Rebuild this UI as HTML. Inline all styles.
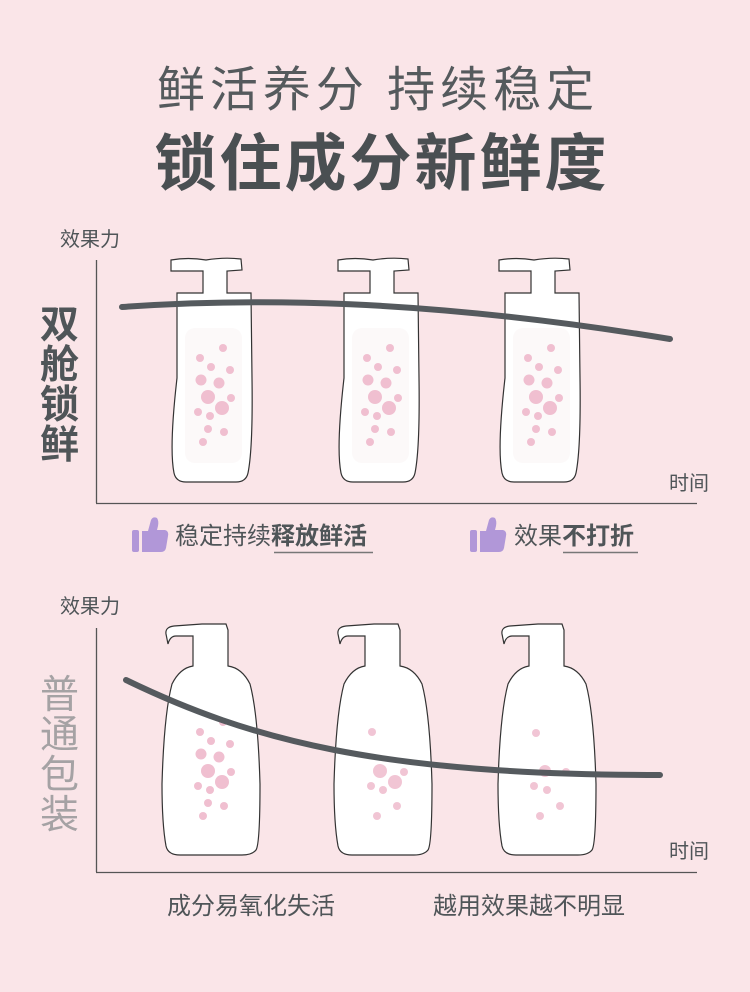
<!DOCTYPE html>
<html><head><meta charset="utf-8"><style>
body{margin:0;width:750px;height:987px;background:#fae5e8;overflow:hidden;font-family:"Liberation Sans","Noto Sans CJK SC",sans-serif}
</style></head><body>
<svg width="750" height="987" viewBox="0 0 750 987" xmlns="http://www.w3.org/2000/svg" style="font-family:'Liberation Sans','Noto Sans CJK SC',sans-serif">
<defs>
<g id="dots">
<circle cx="223" cy="348" r="4"/><circle cx="200" cy="358" r="4"/><circle cx="211" cy="367" r="4"/><circle cx="230" cy="370" r="4"/>
<circle cx="201" cy="380" r="5.5"/><circle cx="219" cy="383" r="5.5"/><circle cx="208" cy="397" r="7"/><circle cx="231" cy="398" r="4"/>
<circle cx="222" cy="408" r="7"/><circle cx="198" cy="412" r="4"/><circle cx="210" cy="416" r="4"/><circle cx="208" cy="429" r="4"/>
<circle cx="224" cy="432" r="4"/><circle cx="203" cy="442" r="4"/>
</g>
<g id="tb">
<path d="M1,2 Q18,-1 36,2 Q54,-1 71,1 L72,12 L57,13 L57,35 L81,35 L82,120 Q83,190 78,215 Q76,224 66,224 L16,224 Q6,224 4,215 Q-1,190 7,120 L7,35 L33,35 L33,13 L1,13 Z" fill="#fff" stroke="#333" stroke-width="1.2"/>
<rect x="15" y="70" width="57" height="135" rx="10" fill="#fcf9f9"/>
</g>
<g id="lb">
<path d="M4,10 Q3,3 12,2 L40,0 L64,0 L66,6 L66,42 Q80,44 88,60 Q96,90 98,160 Q98,220 94,226 Q90,231 80,231 L18,231 Q6,231 4,222 Q0,200 0,160 Q2,90 10,60 Q18,44 31,42 L31,12 L14,12 Q8,12 6,20 Z" fill="#fff" stroke="#333" stroke-width="1.2"/>
</g>
<g id="thumb" fill="#b197d8">
<rect x="0" y="13" width="7" height="22" rx="2"/>
<path d="M10,14 L16,14 L19,3 Q21,-1 25,1 Q27,4 26,9 L25,13 L33,13 Q37,14 36,19 L34,31 Q33,35 29,35 L10,35 Z"/>
</g>
</defs>
<text x="378" y="106" text-anchor="middle" font-size="48" fill="#555a5d" letter-spacing="5">鲜活养分 持续稳定</text>
<text x="382" y="185" text-anchor="middle" font-size="62" font-weight="bold" fill="#4a4f52" letter-spacing="3">锁住成分新鲜度</text>

<text x="60" y="246" font-size="20" fill="#4f5558">效果力</text>
<line x1="96.5" y1="260" x2="96.5" y2="503" stroke="#555" stroke-width="1.3"/>
<line x1="96" y1="503.5" x2="697" y2="503.5" stroke="#555" stroke-width="1.3"/>
<text x="669" y="490" font-size="20" fill="#4f5558">时间</text>
<g font-size="39" fill="#4f5558" font-weight="bold"><text x="40" y="338">双</text><text x="40" y="378">舱</text><text x="40" y="418">锁</text><text x="40" y="458">鲜</text></g>

<use href="#tb" transform="translate(170,258)"/>
<use href="#tb" transform="translate(337,258)"/>
<use href="#tb" transform="translate(498,258)"/>
<g fill="#f0bfd0"><use href="#dots"/><use href="#dots" transform="translate(167,0)"/><use href="#dots" transform="translate(328,0)"/></g>
<path d="M122,307 C250,298 420,298 670,339" fill="none" stroke="#555a5e" stroke-width="6" stroke-linecap="round"/>

<use href="#thumb" transform="translate(132,517)"/>
<text x="175" y="544" font-size="24" fill="#4f5558">稳定持续<tspan font-weight="bold">释放鲜活</tspan></text>
<line x1="274" y1="552.5" x2="373" y2="552.5" stroke="#777" stroke-width="1.5"/>
<use href="#thumb" transform="translate(470,517)"/>
<text x="514" y="544" font-size="24" fill="#4f5558">效果<tspan font-weight="bold">不打折</tspan></text>
<line x1="563" y1="552.5" x2="638" y2="552.5" stroke="#777" stroke-width="1.5"/>

<text x="60" y="613" font-size="20" fill="#4f5558">效果力</text>
<line x1="96.5" y1="628" x2="96.5" y2="872" stroke="#555" stroke-width="1.3"/>
<line x1="96" y1="872.5" x2="697" y2="872.5" stroke="#555" stroke-width="1.3"/>
<text x="669" y="858" font-size="20" fill="#4f5558">时间</text>
<g font-size="39" fill="#a5a2a4"><text x="40" y="708">普</text><text x="40" y="748">通</text><text x="40" y="788">包</text><text x="40" y="828">装</text></g>

<use href="#lb" transform="translate(162,624)"/>
<use href="#lb" transform="translate(334,624)"/>
<use href="#lb" transform="translate(498,624)"/>
<g fill="#f0bfd0"><use href="#dots" transform="translate(0,374)"/></g>
<g fill="#f0bfd0" opacity="0.9">
<circle cx="372" cy="732" r="4"/><circle cx="380" cy="771" r="7"/><circle cx="395" cy="782" r="7"/><circle cx="404" cy="772" r="4"/><circle cx="371" cy="786" r="4"/><circle cx="383" cy="790" r="4"/><circle cx="397" cy="806" r="4"/><circle cx="377" cy="816" r="4"/>
<circle cx="536" cy="733" r="4"/><circle cx="545" cy="771" r="6"/><circle cx="566" cy="772" r="4"/><circle cx="534" cy="786" r="4"/><circle cx="547" cy="790" r="4"/><circle cx="560" cy="806" r="4"/><circle cx="540" cy="816" r="4"/>
</g>
<path d="M126,680 C250,740 380,775 660,775" fill="none" stroke="#555a5e" stroke-width="6" stroke-linecap="round"/>

<text x="251" y="914" text-anchor="middle" font-size="24" fill="#4f5558">成分易氧化失活</text>
<text x="529" y="914" text-anchor="middle" font-size="24" fill="#4f5558">越用效果越不明显</text>
</svg>
</body></html>
